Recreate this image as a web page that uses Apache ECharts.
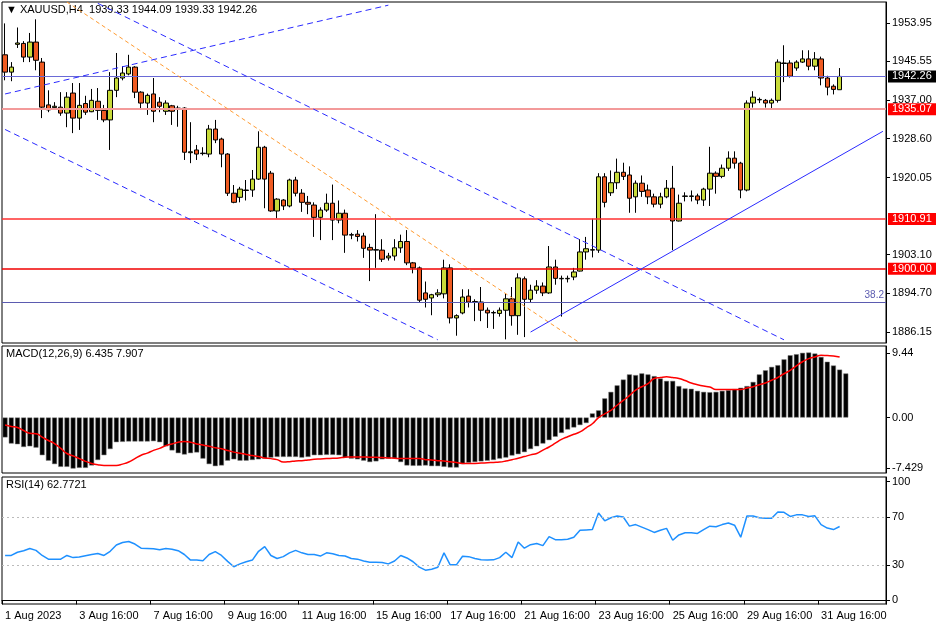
<!DOCTYPE html>
<html><head><meta charset="utf-8">
<script src="https://cdn.jsdelivr.net/npm/echarts@6/dist/echarts.min.js"></script>
<style>html,body{margin:0;padding:0;background:#fff}#c{width:936px;height:624px}</style>
</head><body><div id="c"></div>
<script>
/* XAUUSD H4 — velas, MACD y RSI */
const FONT = "Liberation Sans, Arial, sans-serif";

// velas: [open, close, low, high]
const candles = [
[1947,1943.2,1941.4,1953.9],[1943.2,1944.3,1941.2,1945.4],[1949.3,1949.6,1948.5,1953],[1949.5,1946.5,1945.4,1950],
[1946.5,1949.8,1945.4,1951.8],[1949.8,1945.8,1943.6,1954.8],[1945.4,1935.5,1933.1,1946.3],[1936,1934.9,1934.4,1939.2],
[1935.4,1935.7,1935,1936.6],[1935.5,1934.2,1933.6,1938.8],[1934.2,1937.7,1931.1,1938.8],[1938.6,1933.1,1929.8,1940.8],
[1933.1,1935.9,1930.5,1940.8],[1936.3,1934.4,1933.8,1938],[1934.5,1937,1934.4,1939.5],[1936.8,1934.8,1932.7,1939.7],
[1934.8,1932.7,1932.2,1936],[1932.7,1939.2,1926.1,1943.2],[1939.2,1941.9,1937.7,1947.4],[1941.9,1943,1941.4,1944.5],
[1942.8,1944.3,1942.5,1947],[1944.3,1938.8,1937.5,1944.5],[1938.8,1936.4,1934.9,1939],[1936.4,1938.1,1933.8,1938.5],
[1938.4,1934.6,1932.2,1941.9],[1936.6,1935.7,1934.4,1937.7],[1934.6,1936.4,1933.8,1937],[1935.8,1934.6,1931.6,1936],
[1935.2,1935.3,1931.2,1935.8],[1935.3,1925.6,1923.9,1935.5],[1925.5,1925.7,1923.2,1932.2],[1926.1,1925.2,1923.9,1927.2],
[1925.3,1925.4,1924.9,1926.7],[1925.2,1930.7,1924.5,1931.6],[1930.7,1928.3,1927.6,1932.7],[1928.5,1925.2,1922.3,1928.8],
[1925.2,1916.6,1916,1925.4],[1916.6,1914.6,1914.4,1918.4],[1915.7,1917.5,1914.6,1918],[1917.2,1917.3,1915,1919.5],
[1917.3,1919.7,1915.8,1921.7],[1919.7,1926.7,1919.5,1930.2],[1926.7,1919.7,1913.3,1927],[1921,1912.7,1912.5,1921.5],
[1912.7,1915.3,1911.1,1915.5],[1915.1,1913.8,1912.9,1915.3],[1913.8,1919.5,1913.5,1919.8],[1919.5,1916.6,1915.9,1920.2],
[1916.6,1914.6,1912.5,1917.5],[1914.6,1914.2,1912,1916],[1914,1911.3,1907,1914.6],[1911.3,1912.9,1906.3,1913.5],
[1912.9,1914.4,1912.5,1916.5],[1914.4,1910.7,1906.3,1918.5],[1910.7,1912.2,1910,1915],[1912.2,1907.4,1903.5,1913],
[1907.4,1907.5,1906.5,1907.9],[1907.6,1907.1,1906,1908.5],[1907.2,1904.5,1902.4,1907.9],[1904.7,1904.1,1897.3,1905.5],
[1904.1,1904.2,1900.2,1912],[1904.1,1902.1,1901.5,1906.5],[1902.4,1902.8,1901.8,1903.5],[1902.8,1904.6,1901.8,1906.5],
[1904.6,1906,1903.5,1907.5],[1906,1901.3,1900.8,1908.5],[1901.3,1900.2,1899,1901.5],[1900.2,1893.1,1892.5,1900.5],
[1894.7,1893.3,1891.5,1897.2],[1893.6,1894.3,1889.8,1894.5],[1894.3,1894.7,1893.8,1895.5],[1894.5,1900.2,1893.5,1902],
[1900.2,1889.2,1888,1901],[1889.2,1889.7,1885.3,1890],[1890.3,1893.8,1890,1895.5],[1894,1892.7,1891.5,1895.5],
[1892.7,1892.8,1888.5,1893.3],[1892.7,1890.9,1888.5,1896],[1890.9,1890.3,1887,1891.5],[1890.3,1890.4,1886.8,1890.8],
[1890.2,1890.9,1889.5,1891.5],[1890.9,1893.4,1884.5,1894.5],[1893.4,1889.7,1887.5,1896],[1889.7,1898,1885.5,1899],
[1897.8,1893.3,1885,1898.3],[1893.3,1895.3,1892.5,1896.5],[1895.3,1896.2,1894.5,1897.5],[1896.2,1894.7,1894,1897],
[1894.7,1900.4,1894.5,1905],[1900.4,1897.9,1896.5,1902],[1897.8,1897.9,1889.5,1898.5],[1897.8,1897.9,1897,1898.5],
[1898.2,1899.3,1897.5,1900.2],[1899.5,1903.7,1899.4,1906.5],[1903.7,1904.4,1902,1907],[1904.1,1904.2,1902.5,1911],
[1904.1,1920.2,1903.5,1921],[1920.2,1914.6,1913.5,1921],[1916.7,1918.9,1916,1921.6],[1918.9,1921.2,1917.5,1924.2],
[1921.2,1920.3,1919.5,1923.3],[1920.6,1915.5,1912.3,1922.5],[1915.8,1918.8,1912.3,1919.4],[1918.8,1917,1915.8,1920.5],
[1917.3,1915.8,1914.2,1918.5],[1915.8,1914.2,1913.5,1916.5],[1914.2,1915.8,1913.3,1916.7],[1915.8,1917.7,1915.5,1919.5],
[1917.7,1910.5,1904.1,1922.6],[1910.5,1914.4,1910.4,1916.3],[1915.9,1916,1914.8,1916.8],[1915.9,1916,1914.8,1917.2],
[1916,1915.1,1914.2,1916.5],[1915.1,1917.5,1913.8,1917.8],[1917.5,1921,1913.8,1926.8],[1921,1920.3,1916.5,1921.4],
[1920.3,1922.1,1919.9,1922.9],[1922.1,1924.3,1921.5,1925.8],[1924.3,1923.2,1922,1925.8],[1923.2,1917.3,1915.5,1923.5],
[1917.3,1936.4,1917,1937],[1936.4,1937.7,1935.4,1939],[1937.1,1937.2,1936.4,1937.6],[1937,1936.4,1935.4,1937.3],
[1936.4,1937,1935,1937.4],[1937,1945.4,1936.5,1946],[1945.1,1945.2,1941,1949.1],[1945.2,1942.3,1942,1945.8],
[1944.1,1945.4,1943.5,1945.8],[1945.4,1946.1,1945.2,1948],[1946.1,1944.5,1943.6,1948],[1944.5,1946.1,1943.6,1947.6],
[1946.1,1941.9,1940.3,1946.6],[1941.9,1939.9,1938.1,1942.4],[1940.1,1939.4,1938.3,1940.5],[1939.33,1942.26,1939.33,1944.09]
];

const macdHist = [
-2.9,-3.8,-3.9,-4.3,-4.2,-4.4,-5.5,-6.3,-6.8,-7.2,-7.2,-7.45,-7.35,-7.35,-7.0,-6.2,-5.5,-4.6,-3.6,-3.55,
-3.5,-3.5,-3.5,-3.5,-3.45,-3.6,-4.2,-4.8,-5.2,-5.4,-5.2,-5.1,-6.0,-6.8,-7.1,-7.0,-6.3,-6.1,-6.3,-6.3,
-6.2,-6.1,-6.0,-5.85,-5.75,-5.75,-5.75,-5.75,-5.85,-5.75,-5.5,-5.5,-5.45,-5.45,-5.5,-5.85,-6.0,-6.1,-6.3,-6.5,
-6.4,-6.1,-6.0,-5.95,-6.5,-7.0,-7.05,-7.05,-7.0,-7.1,-7.1,-7.2,-7.3,-7.3,
-6.8,-6.6,-6.5,-6.4,-6.3,-6.2,-6.0,-5.85,-5.55,-5.35,-5.05,-4.6,-4.2,-3.8,-3.3,-2.8,-2.25,-1.75,-1.45,-1.1,-0.8,
0.6,1.05,2.8,3.75,4.7,5.55,6.3,6.2,6.45,6.3,6.05,5.7,5.35,5.35,4.6,4.25,4.2,3.9,3.75,3.7,3.75,3.9,4.0,4.15,4.35,
4.6,5.2,6.3,6.9,7.4,7.65,8.5,9.1,9.25,9.45,9.5,9.35,8.85,8.15,7.6,7.0,6.44
];

const macdSignal = [
-1.1,-1.3,-1.45,-1.9,-2.3,-2.35,-2.85,-3.35,-3.8,-4.5,-5.25,-5.6,-6.0,-6.4,-6.7,-6.9,-7.0,-7.0,-7.0,-6.8,
-6.5,-6.0,-5.5,-5.2,-4.8,-4.5,-4.1,-3.85,-3.6,-3.5,-3.6,-3.85,-4.0,-4.2,-4.4,-4.55,-4.8,-5.05,-5.2,-5.4,
-5.55,-5.7,-5.9,-6.0,-6.15,-6.5,-6.45,-6.35,-6.3,-6.2,-6.1,-6.05,-6.0,-5.95,-5.9,-5.8,-5.75,-5.75,-5.75,-5.8,
-5.8,-5.85,-5.9,-5.95,-6.0,-6.0,-6.0,-6.0,-6.15,-6.2,-6.3,-6.35,-6.45,-6.55,-6.7,-6.7,-6.7,-6.65,-6.6,-6.55,
-6.5,-6.35,-6.15,-5.95,-5.7,-5.45,-5.25,-4.75,-4.3,-3.75,-3.2,-2.8,-2.45,-2.1,-1.5,-0.9,0,0.55,1.05,1.8,
2.5,3.2,4.0,4.5,4.95,5.7,5.85,5.95,5.85,5.7,5.4,5.05,4.8,4.6,4.45,4.1,4.1,4.1,4.1,4.1,
4.3,4.5,4.8,5.05,5.45,5.85,6.4,6.9,7.55,8.15,8.6,8.85,9.1,9.05,9.0,8.85
];

const rsi = [
37.9,37.9,40.6,41.9,43.8,42.2,37.9,34.8,34.8,34.8,37.9,36.1,36.6,37.7,38.7,39.5,37.9,41.4,46.7,48.8,
49.6,47.5,44.0,43.8,43.5,42.7,43.8,43.2,41.9,38.7,34.0,34.0,33.4,38.7,41.1,37.9,32.9,28.4,30.8,32.6,
34.0,41.4,45.4,37.9,35.3,36.9,40.1,42.2,40.1,38.7,38.7,37.4,40.1,39.3,37.9,37.4,35.3,34.8,33.2,32.1,
32.1,31.9,30.8,33.2,37.9,35.8,32.6,28.1,25.5,26.3,27.9,40.1,30.0,30.0,37.2,36.9,35.3,34.2,34.0,34.2,
36.1,40.6,36.1,49.3,44.0,47.0,48.0,46.2,53.8,51.2,51.2,51.5,53.3,59.1,59.4,59.7,73.7,67.1,69.7,71.1,
70.3,62.6,63.9,61.8,59.7,57.3,59.1,60.7,50.7,55.2,57.0,57.0,56.5,59.7,62.6,62.1,63.9,65.2,63.4,53.3,
71.1,71.1,69.7,69.2,69.2,74.5,74.2,70.8,72.1,72.1,70.8,71.3,63.9,61.0,59.7,62.3
];

const tickLabels = ["1 Aug 2023","3 Aug 16:00","7 Aug 16:00","9 Aug 16:00","11 Aug 16:00","15 Aug 16:00",
  "17 Aug 16:00","21 Aug 16:00","23 Aug 16:00","25 Aug 16:00","29 Aug 16:00","31 Aug 16:00"];
const TICK_EVERY = 12, N_SLOTS = 143;
const priceTicks = [1953.95,1945.55,1937.00,1928.60,1920.05,1903.10,1894.70,1886.15];
const macdTicks = [9.44, 0, -7.429];
const rsiTicks = [100, 70, 30, 0];

// líneas horizontales y tendencias (índice de barra, precio)
const levels = [
  {v:1942.26, color:"#6a6ad6", w:1, box:"#000"},
  {v:1935.07, color:"#f39a9a", w:2, box:"#ff0000"},
  {v:1910.91, color:"#ff3030", w:1.5, box:"#ff0000"},
  {v:1900.00, color:"#f00000", w:1.5, box:"#ff0000"}
];
const fib382 = 1892.7;
const trends = [
  {a:[0,1938.4], b:[62,1957.9], color:"#2a2aff", type:[6,4]},
  {a:[15,1958.3], b:[126,1884.4], color:"#2a2aff", type:[6,4]},
  {a:[0,1930.6], b:[69.7,1884.4], color:"#2a2aff", type:[6,4]},
  {a:[9.7,1958.6], b:[92.7,1883.7], color:"#ff9a30", type:[4,3]},
  {a:[84.5,1886.1], b:[142.4,1930.2], color:"#2a2aff", type:"solid"}
];

const cats = [...Array(N_SLOTS).keys()].map(i => i%TICK_EVERY===0 && tickLabels[i/TICK_EVERY] ? tickLabels[i/TICK_EVERY] : "");
const tickIdx = tickLabels.map((_,k)=>k*TICK_EVERY);

const chart = echarts.init(document.getElementById("c"));
const lbl = {fontFamily:FONT, fontSize:11, color:"#000"};
const xBase = (gi, show) => ({type:"category", gridIndex:gi, data:cats, boundaryGap:true,
  axisLine:{show:show, lineStyle:{color:"#000"}}, axisTick:{show:show, customValues:tickIdx, length:4, lineStyle:{color:"#000"}},
  axisLabel:{show:show, ...lbl, customValues:tickIdx, align:"left", margin:6, formatter:v=>v}, splitLine:{show:false}});

const mlLevels = levels.map(l=>({yAxis:l.v, lineStyle:{color:l.color, width:l.w, type:"solid", opacity:1},
  label:{show:true, position:"end", formatter:l.v.toFixed(2), backgroundColor:l.box, color:"#fff",
    fontFamily:FONT, fontSize:11, padding:[1,5,0,4], distance:2}}));
mlLevels.push({yAxis:fib382, lineStyle:{color:"#5b5bb0", width:1, type:"solid"},
  label:{show:true, position:"insideEndTop", formatter:"38.2", color:"#5b5bb0", fontFamily:FONT, fontSize:10, distance:[2,2]}});
const mlTrends = trends.map(t=>[{coord:t.a, lineStyle:{color:t.color, width:1, type:t.type}, label:{show:false}}, {coord:t.b}]);

chart.setOption({
  animation:false,
  textStyle:{fontFamily:FONT},
  grid:[
    {left:2, right:50, top:2, height:341, show:true, borderColor:"#000", borderWidth:1},
    {left:2, right:50, top:346, height:127, show:true, borderColor:"#000", borderWidth:1},
    {left:2, right:50, top:477, height:127, show:true, borderColor:"#000", borderWidth:1}
  ],
  xAxis:[xBase(0,false), xBase(1,false), xBase(2,true)],
  yAxis:[
    {type:"value", gridIndex:0, position:"right", min:1883.7, max:1958.6, scale:true,
      axisLine:{show:true, lineStyle:{color:"#000"}}, axisTick:{show:true, customValues:priceTicks, length:4},
      axisLabel:{...lbl, customValues:priceTicks, formatter:v=>v.toFixed(2), margin:6}, splitLine:{show:false}},
    {type:"value", gridIndex:1, position:"right", min:-8.1, max:10.45,
      axisLine:{show:true, lineStyle:{color:"#000"}}, axisTick:{show:true, customValues:macdTicks, length:4},
      axisLabel:{...lbl, customValues:macdTicks, formatter:v=>v===0?"0.00":String(v), margin:6}, splitLine:{show:false}},
    {type:"value", gridIndex:2, position:"right", min:-3, max:104,
      axisLine:{show:true, lineStyle:{color:"#000"}}, axisTick:{show:true, customValues:rsiTicks, length:4},
      axisLabel:{...lbl, customValues:rsiTicks, margin:6}, splitLine:{show:false}}
  ],
  series:[
    {type:"candlestick", xAxisIndex:0, yAxisIndex:0, data:candles, barWidth:5,
      itemStyle:{color:"#c8db3a", color0:"#ef5b22", borderColor:"#000", borderColor0:"#000", borderWidth:1},
      markLine:{silent:true, symbol:"none", animation:false, data:[...mlLevels, ...mlTrends]}},
    {type:"bar", xAxisIndex:1, yAxisIndex:1, data:macdHist, barWidth:"80%",
      itemStyle:{color:"#000", borderColor:"#777", borderWidth:0.5}},
    {type:"line", xAxisIndex:1, yAxisIndex:1, data:macdSignal, smooth:true, symbol:"none",
      lineStyle:{color:"#ff0000", width:1.5}},
    {type:"line", xAxisIndex:2, yAxisIndex:2, data:rsi, symbol:"none",
      lineStyle:{color:"#1e90ff", width:1.5},
      markLine:{silent:true, symbol:"none", label:{show:false},
        lineStyle:{color:"#bbb", type:[2,3], width:1}, data:[{yAxis:70},{yAxis:30}]}}
  ],
  graphic:[
    {type:"text", left:6, top:4, style:{text:"▼ XAUUSD,H4  1939.33 1944.09 1939.33 1942.26", font:"11px "+FONT, fill:"#000"}},
    {type:"text", left:6, top:348, style:{text:"MACD(12,26,9) 6.435 7.907", font:"11px "+FONT, fill:"#000"}},
    {type:"text", left:6, top:479, style:{text:"RSI(14) 62.7721", font:"11px "+FONT, fill:"#000"}}
  ]
});
</script>
</body></html>
